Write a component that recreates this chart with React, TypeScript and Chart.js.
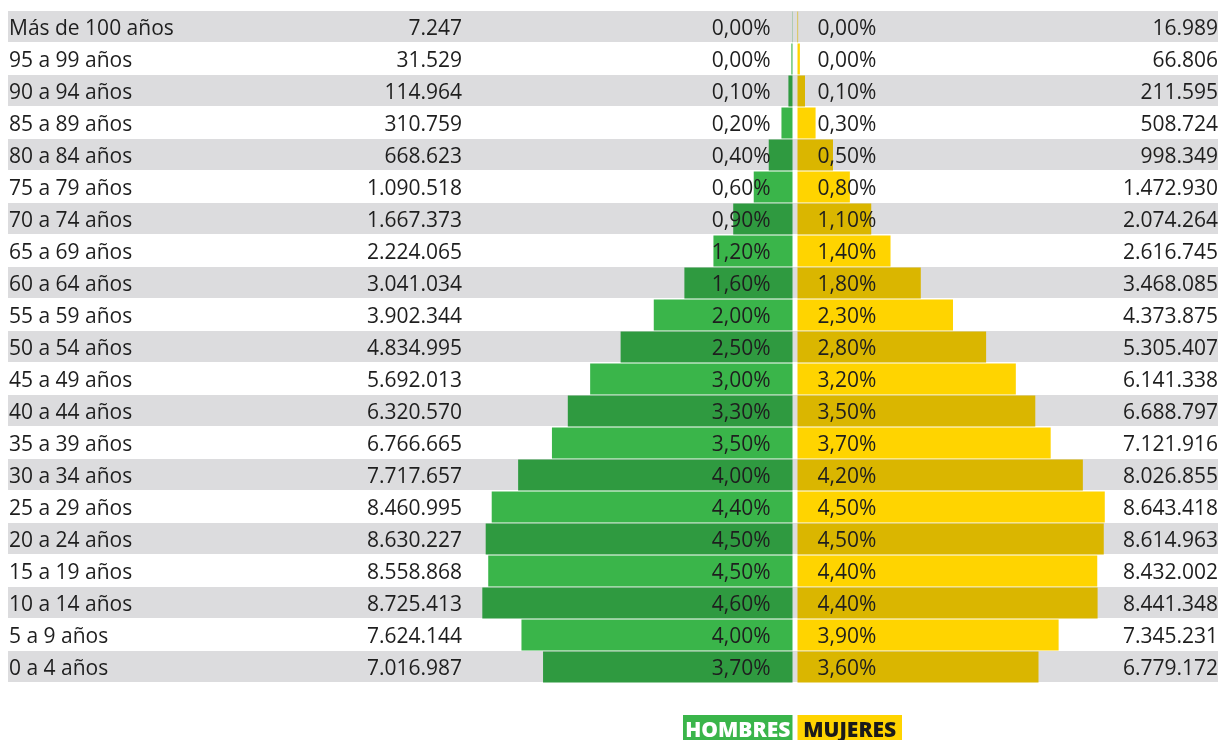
import React, { useEffect, useRef } from "react";
import { Chart, registerables } from "chart.js";

Chart.register(...registerables);

const ageLabels = [
  "Más de 100 años", "95 a 99 años", "90 a 94 años", "85 a 89 años", "80 a 84 años",
  "75 a 79 años", "70 a 74 años", "65 a 69 años", "60 a 64 años", "55 a 59 años",
  "50 a 54 años", "45 a 49 años", "40 a 44 años", "35 a 39 años", "30 a 34 años",
  "25 a 29 años", "20 a 24 años", "15 a 19 años", "10 a 14 años", "5 a 9 años", "0 a 4 años",
];
const maleValues = [
  7247, 31529, 114964, 310759, 668623, 1090518, 1667373, 2224065, 3041034, 3902344,
  4834995, 5692013, 6320570, 6766665, 7717657, 8460995, 8630227, 8558868, 8725413, 7624144, 7016987,
];
const femaleValues = [
  16989, 66806, 211595, 508724, 998349, 1472930, 2074264, 2616745, 3468085, 4373875,
  5305407, 6141338, 6688797, 7121916, 8026855, 8643418, 8614963, 8432002, 8441348, 7345231, 6779172,
];
const malePct = [
  "0,00%", "0,00%", "0,10%", "0,20%", "0,40%", "0,60%", "0,90%", "1,20%", "1,60%", "2,00%",
  "2,50%", "3,00%", "3,30%", "3,50%", "4,00%", "4,40%", "4,50%", "4,50%", "4,60%", "4,00%", "3,70%",
];
const femalePct = [
  "0,00%", "0,00%", "0,10%", "0,30%", "0,50%", "0,80%", "1,10%", "1,40%", "1,80%", "2,30%",
  "2,80%", "3,20%", "3,50%", "3,70%", "4,20%", "4,50%", "4,50%", "4,40%", "4,40%", "3,90%", "3,60%",
];
const legendLabels = ["HOMBRES", "MUJERES"];

const W = 1220;
const H = 740;
const AREA_LEFT = 8;
const AREA_RIGHT = 1218;
const MALE_ZERO = 792.5;
const FEMALE_ZERO = 797.5;
const PX_PER_PERSON = 3.555e-5;

const GREEN_LIGHT = "#3ab54a";
const GREEN_DARK = "#2f9a40";
const YELLOW_LIGHT = "#ffd400";
const YELLOW_DARK = "#dab600";
const BAND = "#dcdcde";
const TEXT = "#1e1e1e";
const FONT = "'Open Sans', 'Noto Sans', sans-serif";

const fmt = (n: number) => n.toString().replace(/\B(?=(\d{3})+(?!\d))/g, ".");

export default function App() {
  const ref = useRef<HTMLCanvasElement | null>(null);

  useEffect(() => {
    const canvas = ref.current;
    if (!canvas) return;

    const overlay = {
      id: "pyramidOverlay",
      beforeDatasetsDraw(chart: any) {
        const { ctx } = chart;
        const y = chart.scales.y;
        ctx.save();
        ctx.fillStyle = BAND;
        ageLabels.forEach((_, i) => {
          if (i % 2 !== 0) return;
          const c = y.getPixelForValue(i);
          ctx.fillRect(AREA_LEFT, c - 16, AREA_RIGHT - AREA_LEFT, 31);
        });
        ctx.restore();
      },
      afterDatasetsDraw(chart: any) {
        const { ctx } = chart;
        const y = chart.scales.y;
        const xM = chart.scales.xM;
        const xF = chart.scales.xF;
        const mz = xM.getPixelForValue(0);
        const fz = xF.getPixelForValue(0);
        ctx.save();
        ctx.fillStyle = TEXT;
        ctx.font = `21px ${FONT}`;
        ctx.textBaseline = "alphabetic";
        ageLabels.forEach((lab, i) => {
          const c = y.getPixelForValue(i) + 8;
          ctx.textAlign = "left";
          ctx.fillText(lab, 9, c);
          ctx.textAlign = "right";
          ctx.fillText(fmt(maleValues[i]), 462, c);
          ctx.fillText(malePct[i], mz - 22, c);
          ctx.textAlign = "left";
          ctx.fillText(femalePct[i], fz + 20, c);
          ctx.textAlign = "right";
          ctx.fillText(fmt(femaleValues[i]), AREA_RIGHT, c);
        });
        // legend
        ctx.font = `800 21px ${FONT}`;
        const boxTop = 715;
        ctx.fillStyle = GREEN_LIGHT;
        ctx.fillRect(683, boxTop, mz - 683, H - boxTop);
        ctx.fillStyle = YELLOW_LIGHT;
        ctx.fillRect(fz, boxTop, 902 - fz, H - boxTop);
        ctx.textAlign = "center";
        ctx.fillStyle = "#ffffff";
        ctx.fillText(legendLabels[0], (683 + mz) / 2, 737);
        ctx.fillStyle = "#1a1a1a";
        ctx.fillText(legendLabels[1], (fz + 902) / 2, 737);
        ctx.restore();
      },
    };

    const maleColors = ageLabels.map((_, i) => (i % 2 === 0 ? GREEN_DARK : GREEN_LIGHT));
    const femaleColors = ageLabels.map((_, i) => (i % 2 === 0 ? YELLOW_DARK : YELLOW_LIGHT));

    const chart = new Chart(canvas, {
      type: "bar",
      data: {
        labels: ageLabels,
        datasets: [
          {
            label: legendLabels[0],
            data: maleValues.map((v) => -v),
            xAxisID: "xM",
            backgroundColor: maleColors,
            grouped: false,
            barPercentage: 1,
            categoryPercentage: 31 / 32,
            borderWidth: 0,
          } as any,
          {
            label: legendLabels[1],
            data: femaleValues,
            xAxisID: "xF",
            backgroundColor: femaleColors,
            grouped: false,
            barPercentage: 1,
            categoryPercentage: 31 / 32,
            borderWidth: 0,
          } as any,
        ],
      },
      options: {
        indexAxis: "y",
        responsive: false,
        animation: false,
        devicePixelRatio: 1,
        layout: { padding: { left: AREA_LEFT, right: W - AREA_RIGHT, top: 11, bottom: 57 } },
        plugins: { legend: { display: false }, tooltip: { enabled: false } },
        scales: {
          y: { type: "category", display: false, offset: true, grid: { display: false } },
          xM: {
            type: "linear",
            display: false,
            min: -(MALE_ZERO - AREA_LEFT) / PX_PER_PERSON,
            max: (AREA_RIGHT - MALE_ZERO) / PX_PER_PERSON,
          },
          xF: {
            type: "linear",
            display: false,
            min: -(FEMALE_ZERO - AREA_LEFT) / PX_PER_PERSON,
            max: (AREA_RIGHT - FEMALE_ZERO) / PX_PER_PERSON,
          },
        },
      } as any,
      plugins: [overlay],
    });

    return () => chart.destroy();
  }, []);

  return (
    <div style={{ position: "fixed", left: 0, top: 0, width: W, height: H, background: "#fff" }}>
      <canvas ref={ref} width={W} height={H} style={{ width: W, height: H, display: "block" }} />
    </div>
  );
}
